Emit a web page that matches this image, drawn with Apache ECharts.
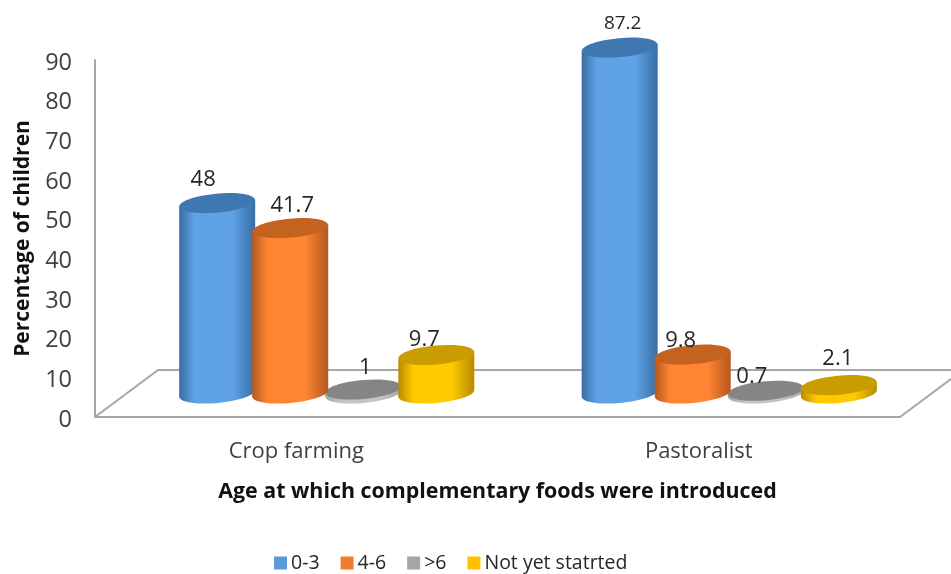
<!DOCTYPE html>
<html>
<head>
<meta charset="utf-8">
<style>html,body{margin:0;padding:0;background:#fff}#chart{width:951px;height:574px}</style>
<script src="https://cdn.jsdelivr.net/npm/echarts@6/dist/echarts.min.js"></script>
</head>
<body>
<div id="chart"></div>
<script>
// Values
const categories = ['Crop farming', 'Pastoralist'];
const seriesNames = ['0-3', '4-6', '>6', 'Not yet statrted'];
const age0to3 = [48, 87.2];
const age4to6 = [41.7, 9.8];
const ageOver6 = [1, 0.7];
const notYetStarted = [9.7, 2.1];
const yTicks = { min: 0, max: 90, interval: 10 };

// Pseudo-3D floor depth, cylinder proportions and label nudges
const FONT = '"Open Sans", sans-serif';
const DEPTH_X = 63, DEPTH_Y = 47;
const BAR_SHIFT = -1;
const BAR_STEP = 0.1815;      // centre spacing as a fraction of the band
const RX = 38, RY = 9.5, TILT = 0.09;
const palette = [
  { edge: '#386da3', mid: '#5fa3e6', top: '#3f78b0', legend: '#5b9bd5' },
  { edge: '#b4581b', mid: '#ff8533', top: '#c4621f', legend: '#ed7d31' },
  { edge: '#a6a6a6', mid: '#c4c4c4', top: '#858585', legend: '#a5a5a5' },
  { edge: '#b88a00', mid: '#ffcb00', top: '#c99c00', legend: '#ffc000' }
];
const labelNudge = [
  [[-14, -23], [3, -24]],
  [[2, -22], [-12, -14]],
  [[2, -22], [-14, -14]],
  [[-12, -15], [-1, -26]]
];
const labelSize = [[22, 19], [22, 22], [22, 22], [22, 22]];

function cylinder(seriesIdx) {
  return function (params, api) {
    const cat = api.value(0), val = api.value(1);
    const band = api.size([1, 0])[0];
    const base = api.coord([cat, 0]);
    const top = api.coord([cat, val]);
    const cx = base[0] + DEPTH_X / 2 + BAR_SHIFT + (seriesIdx - 1.5) * BAR_STEP * band;
    const yBase = base[1] - DEPTH_Y / 2;
    const yTop = top[1] - DEPTH_Y / 2;
    const c = palette[seriesIdx];
    const dy = RX * Math.sin(TILT);
    const side = new echarts.graphic.LinearGradient(0, 0, 1, 0, [
      { offset: 0, color: c.edge },
      { offset: 0.2, color: c.mid },
      { offset: 0.7, color: c.mid },
      { offset: 1, color: c.edge }
    ]);
    const nudge = labelNudge[seriesIdx][cat];
    return {
      type: 'group',
      children: [
        {
          type: 'ellipse',
          shape: { cx: cx, cy: yBase, rx: RX, ry: RY },
          rotation: TILT, originX: cx, originY: yBase,
          style: { fill: side }
        },
        {
          type: 'polygon',
          shape: {
            points: [
              [cx - RX, yTop + dy], [cx + RX, yTop - dy],
              [cx + RX, yBase - dy], [cx - RX, yBase + dy]
            ]
          },
          style: { fill: side }
        },
        {
          type: 'ellipse',
          shape: { cx: cx, cy: yTop, rx: RX, ry: RY },
          rotation: TILT, originX: cx, originY: yTop,
          style: { fill: c.top }
        },
        {
          type: 'text',
          style: {
            text: String(val),
            x: cx + nudge[0], y: yTop + nudge[1],
            align: 'center', verticalAlign: 'middle',
            font: labelSize[seriesIdx][cat] + 'px ' + FONT, fill: '#262626'
          }
        }
      ]
    };
  };
}

// Floor of the plot box, sharing the category axis baseline
function floor(params, api) {
  const g = params.coordSys;
  const x0 = g.x, x1 = g.x + g.width, y0 = g.y + g.height;
  const lineStyle = { stroke: '#a6a6a6', lineWidth: 2, fill: 'none' };
  const seg = (a, b, c, d) => ({ type: 'line', shape: { x1: a, y1: b, x2: c, y2: d }, style: lineStyle });
  return {
    type: 'group',
    children: [
      seg(x0, y0, x0 + DEPTH_X, y0 - DEPTH_Y),
      seg(x0 + DEPTH_X, y0 - DEPTH_Y, x1 + DEPTH_X, y0 - DEPTH_Y),
      seg(x1, y0, x1 + DEPTH_X, y0 - DEPTH_Y)
    ]
  };
}

const columns = [age0to3, age4to6, ageOver6, notYetStarted];
const zOrder = [3, 4, 2, 5];

const chart = echarts.init(document.getElementById('chart'), null, { renderer: 'canvas' });
chart.setOption({
  animation: false,
  backgroundColor: '#fff',
  grid: { left: 95, right: 51, top: 60, bottom: 157, outerBoundsMode: 'none' },
  legend: {
    data: seriesNames,
    left: 269, top: 548,
    icon: 'rect', itemWidth: 13, itemHeight: 13, itemGap: 21,
    textStyle: { fontFamily: FONT, fontSize: 19.5, color: '#262626', padding: [0, 0, 0, -1] }
  },
  xAxis: {
    type: 'category',
    data: categories,
    name: 'Age at which complementary foods were introduced',
    nameLocation: 'middle',
    nameGap: 64,
    nameTextStyle: { fontFamily: FONT, fontWeight: 'bold', fontSize: 21.4, color: '#111' },
    axisLine: { lineStyle: { color: '#a6a6a6', width: 2 } },
    axisTick: { length: 7, lineStyle: { color: '#a6a6a6', width: 1.5 } },
    axisLabel: { fontFamily: FONT, fontSize: 22, color: '#404040', margin: 24 }
  },
  yAxis: {
    type: 'value',
    min: yTicks.min, max: yTicks.max, interval: yTicks.interval,
    name: 'Percentage of children',
    nameLocation: 'middle',
    nameGap: 61,
    nameRotate: 90,
    nameTextStyle: { fontFamily: FONT, fontWeight: 'bold', fontSize: 21, color: '#111' },
    axisLine: { show: true, lineStyle: { color: '#a6a6a6', width: 2 } },
    axisTick: { show: false },
    splitLine: { show: false },
    axisLabel: { fontFamily: FONT, fontSize: 23.5, color: '#404040', margin: 23, verticalAlign: 'top', lineHeight: 6 }
  },
  series: [
    {
      type: 'custom', name: 'floor', z: 1, silent: true,
      data: [[0, 0]], encode: { x: 0, y: 1 },
      renderItem: floor, clip: false
    }
  ].concat(columns.map((values, i) => ({
    type: 'custom',
    name: seriesNames[i],
    z: zOrder[i],
    itemStyle: { color: palette[i].legend },
    encode: { x: 0, y: 1 },
    data: values.map((v, k) => [k, v]),
    renderItem: cylinder(i)
  })))
});
</script>
</body>
</html>
